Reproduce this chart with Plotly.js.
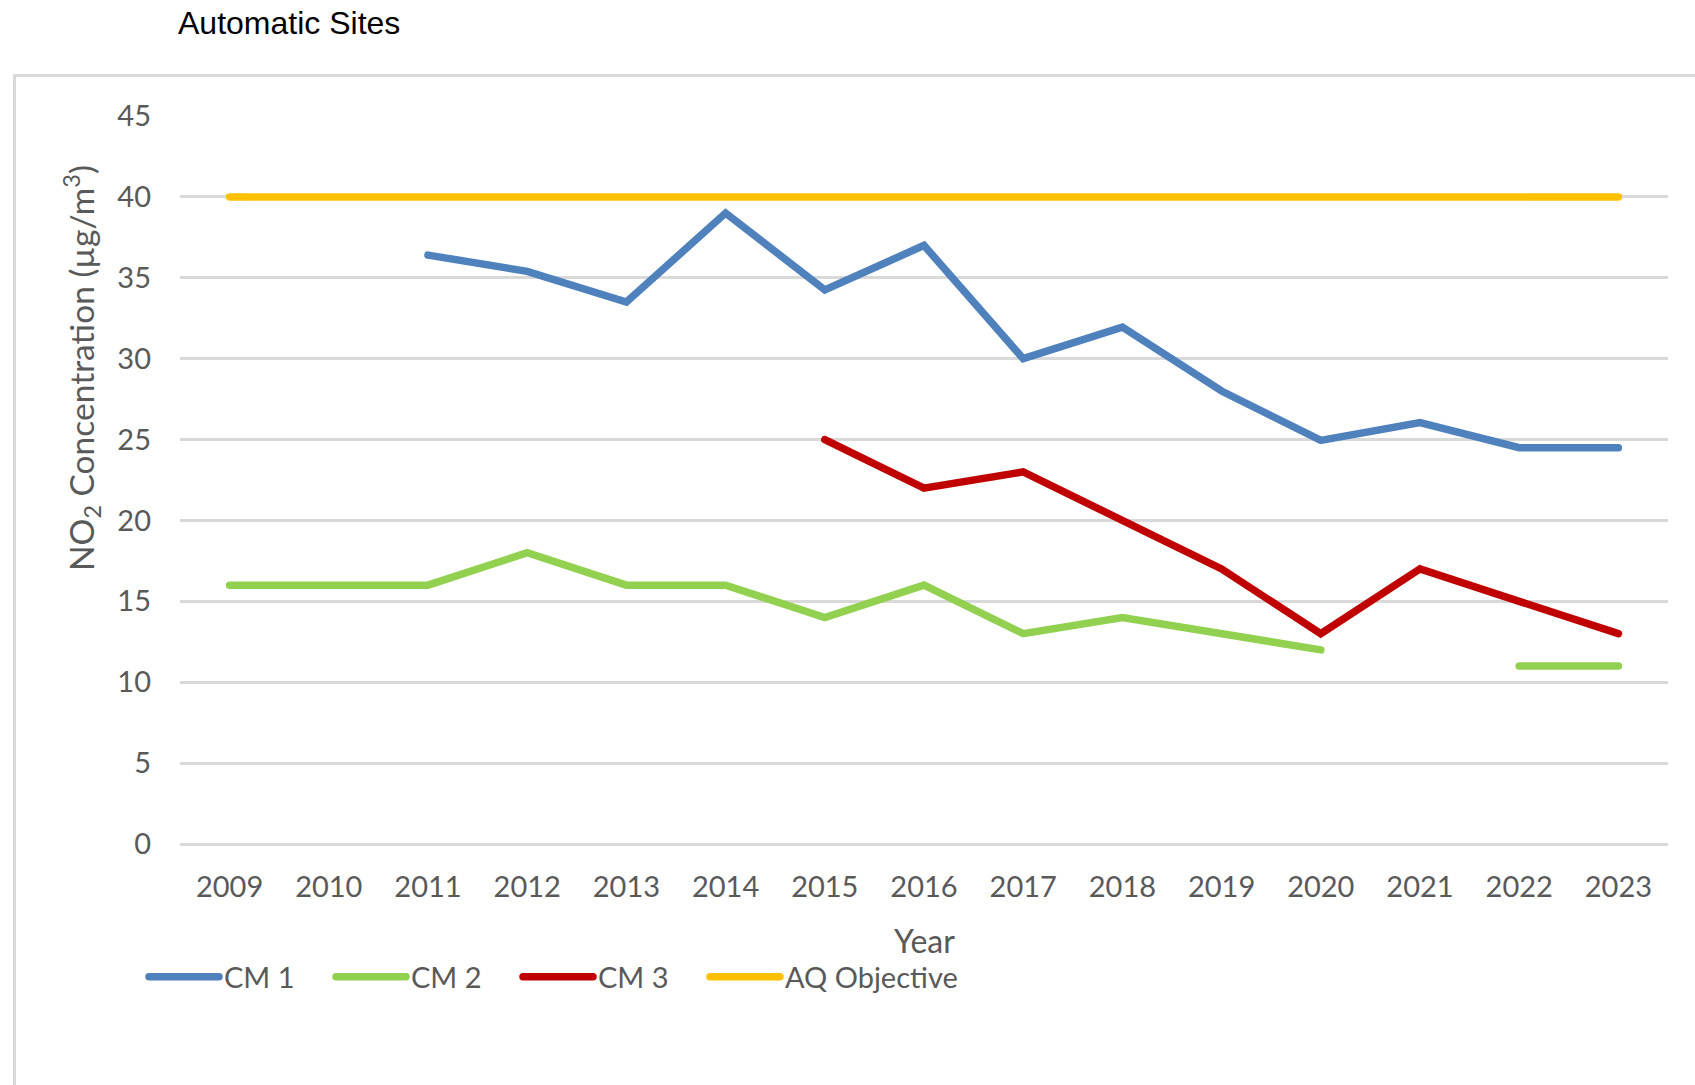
<!DOCTYPE html>
<html>
<head>
<meta charset="utf-8">
<script src="https://cdn.plot.ly/plotly-3.0.1.min.js"></script>
<style>
  html, body { margin: 0; padding: 0; background: #fff; }
  #chart { width: 1695px; height: 1085px; }
  .scatterlayer .js-line, .legendlines path { stroke-linecap: round; }
</style>
</head>
<body>
<div id="chart"></div>
<script>
const years = ['2009','2010','2011','2012','2013','2014','2015','2016','2017','2018','2019','2020','2021','2022','2023'];
const cm1 = [null, null, 36.4, 35.4, 33.5, 39.0, 34.25, 37.0, 30.0, 31.95, 28.0, 24.95, 26.05, 24.5, 24.5];
const cm2 = [16, 16, 16, 18, 16, 16, 14, 16, 13, 14, 13, 12, null, 11, 11];
const cm3 = [null, null, null, null, null, null, 25, 22, 23, 20, 17, 13, 17, 15, 13];
const aqObjective = [40, 40, 40, 40, 40, 40, 40, 40, 40, 40, 40, 40, 40, 40, 40];
const seriesNames = ['CM 1', 'CM 2', 'CM 3', 'AQ Objective'];
const yTicks = [0, 5, 10, 15, 20, 25, 30, 35, 40, 45];

const colors = ['#4f81bd', '#92d050', '#c00000', '#ffc000'];
const legendWidths = [102, 102, 102, null];
const allSeries = [cm1, cm2, cm3, aqObjective];
const tickFont = { family: 'Lato, "Noto Sans", sans-serif', size: 29, color: '#595959' };
const axisTitleFont = { family: 'Lato, "Noto Sans", sans-serif', size: 32, color: '#595959' };

const traces = allSeries.map((vals, i) => {
  const t = {
    type: 'scatter',
    mode: 'lines',
    name: seriesNames[i],
    x: years,
    y: vals,
    line: { color: colors[i], width: 7.5 },
    connectgaps: false,
    hoverinfo: 'skip'
  };
  if (legendWidths[i]) t.legendwidth = legendWidths[i];
  return t;
});

const PW = 1488, PH = 728, L = 180, T = 116;

const layout = {
  width: 1695,
  height: 1085,
  margin: { l: L, r: 27, t: T, b: 241, pad: 0 },
  paper_bgcolor: '#ffffff',
  plot_bgcolor: '#ffffff',
  title: {
    text: 'Automatic Sites',
    font: { family: '"Liberation Sans", Arial, sans-serif', size: 32, color: '#000000' },
    xref: 'container', yref: 'container',
    x: 178 / 1695, xanchor: 'left',
    y: 1 - 23 / 1085, yanchor: 'middle'
  },
  xaxis: {
    type: 'category',
    range: [-0.5, 14.5],
    showgrid: false,
    zeroline: false,
    showline: false,
    ticks: '',
    tickfont: tickFont,
    ticklabelstandoff: 23,
    fixedrange: true
  },
  yaxis: {
    range: [0, 45],
    tickvals: yTicks,
    ticktext: yTicks.map(String),
    showgrid: true,
    gridcolor: '#d9d9d9',
    gridwidth: 3,
    zeroline: true,
    zerolinecolor: '#d9d9d9',
    zerolinewidth: 3,
    showline: false,
    ticks: '',
    tickfont: tickFont,
    ticklabelstandoff: 28,
    fixedrange: true
  },
  showlegend: true,
  legend: {
    orientation: 'h',
    xref: 'container', yref: 'container',
    x: 144 / 1695, xanchor: 'left',
    y: 1 - 977 / 1085, yanchor: 'middle',
    font: tickFont,
    itemwidth: 70,
    bgcolor: 'rgba(0,0,0,0)',
    borderwidth: 0,
    traceorder: 'normal'
  },
  annotations: [{
    text: 'NO<sub>2</sub> Concentration (µg/m<sup>3</sup>)',
    xref: 'paper', yref: 'paper',
    x: (81 - L) / PW, y: (844 - 368) / PH,
    xanchor: 'center', yanchor: 'middle',
    textangle: -90,
    showarrow: false,
    font: { family: 'Lato, "Noto Sans", sans-serif', size: 33.5, color: '#595959' }
  }, {
    text: 'Year',
    xref: 'paper', yref: 'paper',
    x: 0.5, y: (844 - 940) / PH,
    xanchor: 'center', yanchor: 'middle',
    showarrow: false,
    font: axisTitleFont
  }],
  shapes: [{
    type: 'rect',
    xref: 'paper', yref: 'paper',
    x0: (14.5 - L) / PW, x1: 1.05,
    y0: -0.5, y1: (844 - 75.5) / PH,
    line: { color: '#d9d9d9', width: 3 },
    fillcolor: 'rgba(0,0,0,0)',
    layer: 'below'
  }]
};

Plotly.newPlot('chart', traces, layout, { displayModeBar: false, staticPlot: true });
</script>
</body>
</html>
